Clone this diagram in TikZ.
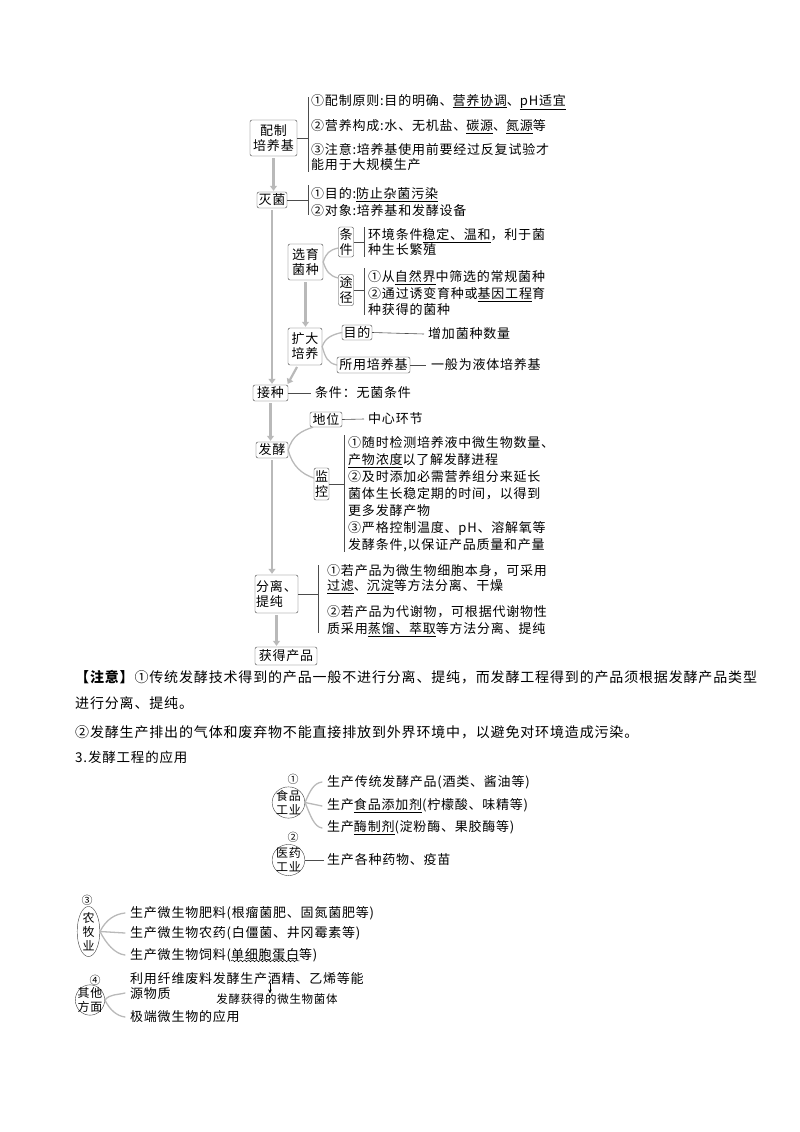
\documentclass[tikz,border=0pt]{standalone}
\usepackage{fontspec}
\setmainfont{Noto Sans CJK SC}[LetterSpace=6]
\usetikzlibrary{arrows.meta, positioning, shapes.geometric, decorations.pathmorphing}

\newcommand\dfont{\fontsize{13}{15}\selectfont}
\newcommand\nfont{\fontsize{14}{17}\selectfont}
\newcommand\efont{\fontsize{12}{14}\selectfont}
\newcommand\cfont{\fontsize{11}{12}\selectfont}
\newcommand\hfont{\fontsize{11.5}{13}\selectfont}
\newcommand\udl[1]{\underline{#1}}
\newsavebox\wvbox
\newcommand\wvl[1]{\sbox\wvbox{#1}\rlap{\raisebox{-3pt}{\tikz[x=1pt,y=1pt]\draw[line width=0.5pt, decorate, decoration={snake, amplitude=0.9pt, segment length=4pt}] (0,0) -- (\wd\wvbox,0);}}\usebox\wvbox}

\begin{document}
\begin{tikzpicture}[x=1pt, y=-1pt,
    box/.style = {draw=black!75, rounded corners=2pt, inner sep=1pt, align=center, font=\dfont},
    txt/.style = {anchor=west, align=left, inner sep=0pt, font=\dfont},
    note/.style = {anchor=west, inner sep=0pt, font=\nfont},
    oval/.style = {draw=black!75, ellipse, inner xsep=-0.8pt, inner ysep=-1.2pt, align=center, font=\efont},
    num/.style = {inner sep=0pt, font=\cfont},
    flow/.style = {draw=gray!55, line width=2.2pt, -{Triangle[length=5pt, width=7pt]}, shorten <=2pt, shorten >=1pt},
    rule/.style = {draw=black!70, line width=0.6pt},
    curl/.style = {draw=gray!55, line width=1.3pt, line cap=round}
  ]
\useasboundingbox (0,0) rectangle (800,1132);

% main flow
\node[box, minimum width=47pt, minimum height=36pt] (pz) at (273.5,138) {配制\\培养基};
\node[box, minimum width=30pt, minimum height=16pt] (mj) at (272,200) {灭菌};
\node[box, minimum width=35pt, minimum height=36pt] (xy) at (305.5,262) {选育\\菌种};
\node[box, minimum width=15pt, minimum height=30pt, inner sep=0.5pt] (tj) at (346,242) {条\\件};
\node[box, minimum width=15pt, minimum height=31pt, inner sep=0.5pt] (tk) at (346,290) {途\\径};
\node[box, minimum width=34pt, minimum height=37pt] (kd) at (305,346.5) {扩大\\培养};
\node[box, minimum width=30pt, minimum height=15pt] (md) at (357,332.5) {目的};
\node[box, minimum width=73pt, minimum height=16pt] (yt) at (373.5,365) {所用培养基};
\node[box, minimum width=35pt, minimum height=16pt] (jz) at (270.5,393) {接种};
\node[box, minimum width=32pt, minimum height=16pt] (fj) at (272,450) {发酵};
\node[box, minimum width=32pt, minimum height=15pt] (dw) at (326,419.5) {地位};
\node[box, minimum width=15pt, minimum height=32pt, inner sep=0.5pt] (jk) at (321.5,484) {监\\控};
\node[box, minimum width=43pt, minimum height=38pt, align=left] (fl) at (276.5,594) {分离、\\提纯};
\node[box, minimum width=62pt, minimum height=18pt] (hd) at (286,656) {获得产品};

% texts
\node[txt] (pz1) at (311,102) {①配制原则:目的明确、\udl{营养协调}、\udl{pH适宜}};
\node[txt] (pz2) at (311,127) {②营养构成:水、无机盐、\udl{碳源}、\udl{氮源}等};
\node[txt] (pz3) at (311,157.5) {③注意:培养基使用前要经过反复试验才\\能用于大规模生产};
\node[txt] (mj1) at (311,195) {①目的:\udl{防止杂菌污染}};
\node[txt] (mj2) at (311,211) {②对象:培养基和发酵设备};
\node[txt] (tjt) at (368,242.5) {环境条件\udl{稳定、温和}，利于菌\\种生长繁殖};
\node[txt, font=\fontsize{13}{16.5}\selectfont] (tkt) at (368,293.5) {①从\udl{自然界}中筛选的常规菌种\\②通过诱变育种或\udl{基因工程}育\\种获得的菌种};
\node[txt] (mdt) at (428,334) {增加菌种数量};
\node[txt] (ytt) at (431,365) {一般为液体培养基};
\node[txt] (jzt) at (315,393) {条件：无菌条件};
\node[txt] (dwt) at (368,419) {中心环节};
\node[txt, font=\fontsize{13}{17}\selectfont] (jkt) at (348,494) {①随时检测培养液中微生物数量、\\\udl{产物浓度}以了解发酵进程\\②及时添加必需营养组分来延长\\菌体生长稳定期的时间，以得到\\更多发酵产物\\③严格控制温度、pH、溶解氧等\\发酵条件,以保证产品质量和产量};
\node[txt] (flt1) at (327,579.5) {①若产品为微生物细胞本身，可采用\\\udl{过滤}、\udl{沉淀}等方法分离、干燥};
\node[txt, font=\fontsize{13}{17}\selectfont] (flt2) at (327,621.5) {②若产品为代谢物，可根据代谢物性\\质采用\udl{蒸馏、萃取}等方法分离、提纯};

% braces
\coordinate (pzt) at (308,97);
\coordinate (pzb) at (308,172);
\coordinate (mjt) at (308,185);
\coordinate (mjb) at (308,215);
\coordinate (tjt0) at (364,227);
\coordinate (tjb) at (364,257);
\coordinate (tkt0) at (364,268);
\coordinate (tkb) at (364,315);
\coordinate (jkt0) at (344,435);
\coordinate (jkb) at (344,552);
\coordinate (flt0) at (318,565);
\coordinate (flb) at (318,633);
\draw[rule] (pzt) -- (pzb);
\draw[rule] (pz.east) -- (pz.east -| pzt);
\draw[rule] (mjt) -- (mjb);
\draw[rule] (mj.east) -- (mj.east -| mjt);
\draw[rule] (tjt0) -- (tjb);
\draw[rule] (tj.east) -- (tj.east -| tjt0);
\draw[rule] (tkt0) -- (tkb);
\draw[rule] (tk.east) -- (tk.east -| tkt0);
\draw[rule] (jkt0) -- (jkb);
\draw[rule] (jk.east) -- (jk.east -| jkt0);
\draw[rule] (flt0) -- (flb);
\draw[rule] (fl.east) -- (fl.east -| flt0);
\draw[rule] (md.east) -- ([xshift=-4pt]mdt.west);
\draw[rule] (yt.east) -- ([xshift=-5pt]ytt.west);
\draw[rule] (jz.east) -- ([xshift=-4pt]jzt.west);
\draw[rule] (dw.east) -- ([xshift=-4pt]dwt.west);

\draw[curl] (xy.east) .. controls +(3,-9) and +(-9,2) .. ([yshift=-6pt]tj.west);
\draw[curl] (xy.east) .. controls +(3,9) and +(-9,-2) .. ([yshift=12pt]tk.west);
\draw[curl] (kd.east) .. controls +(3,-9) and +(-9,2) .. (md.west);
\draw[curl] (kd.east) .. controls +(3,11) and +(-9,-2) .. (yt.west);
\draw[curl] (fj.east) .. controls +(4,-14) and +(-12,4) .. ([xshift=3pt]dw.south west);
\draw[curl] (fj.east) .. controls +(4,16) and +(-12,-4) .. ([yshift=6pt]jk.west);

% arrows
\draw[flow] (pz.south) -- (pz.south |- mj.north);
\draw[flow] (mj.south) -- (mj.south |- jz.north);
\draw[flow] (xy.south) -- (xy.south |- kd.north);
\draw[flow] ([xshift=-7pt]kd.south) -- ([xshift=-1pt]jz.north east);
\draw[flow] (jz.south) -- (jz.south |- fj.north);
\draw[flow] (fj.south) -- (fj.south |- fl.north);
\draw[flow] (fl.south) -- (fl.south |- hd.north);

% notes
\node[note] (n1) at (75,677) {\textbf{【注意】}①传统发酵技术得到的产品一般不进行分离、提纯，而发酵工程得到的产品须根据发酵产品类型};
\node[note] (n2) at (75,703) {进行分离、提纯。};
\node[note] (n3) at (75,732) {②发酵生产排出的气体和废弃物不能直接排放到外界环境中，以避免对环境造成污染。};
\node[note, font=\fontsize{13.5}{16}\selectfont] (n4) at (75,757) {3.发酵工程的应用};

% applications
\node[oval] (sp) at (288.5,802.5) {食品\\工业};
\node[num] (sp0) at (293,779) {①};
\node[txt] (sp1) at (327,782) {生产传统发酵产品(酒类、酱油等)};
\node[txt] (sp2) at (327,806) {生产\udl{食品添加剂}(柠檬酸、味精等)};
\node[txt] (sp3) at (327,828) {生产\udl{酶制剂}(淀粉酶、果胶酶等)};
\draw[curl] (sp.east) .. controls +(5,-12) and +(-8,1) .. ([xshift=-5pt]sp1.west);
\draw[curl] (sp.east) -- ([xshift=-5pt]sp2.west);
\draw[curl] (sp.east) .. controls +(5,12) and +(-8,-1) .. ([xshift=-5pt]sp3.west);

\node[oval] (yy) at (288.5,860) {医药\\工业};
\node[num] (yy0) at (293,837) {②};
\node[txt] (yyt) at (327,860) {生产各种药物、疫苗};
\draw[rule] (yy.east) -- ([xshift=-3pt]yyt.west);

\node[oval, inner xsep=2pt, inner ysep=-1.5pt] (nm) at (88.5,931.5) {农\\牧\\业};
\node[num] (nm0) at (87,900) {③};
\node[txt] (nm1) at (130,913) {生产微生物肥料(根瘤菌肥、固氮菌肥等)};
\node[txt] (nm2) at (130,933) {生产微生物农药(白僵菌、井冈霉素等)};
\node[txt] (nm3) at (130,955) {生产微生物饲料(\wvl{单细胞蛋白}等)};
\draw[curl] (nm.east) .. controls +(6,-12) and +(-10,1) .. ([xshift=-5pt]nm1.west);
\draw[curl] (nm.east) -- ([xshift=-5pt]nm2.west);
\draw[curl] (nm.east) .. controls +(6,12) and +(-10,-1) .. ([xshift=-5pt]nm3.west);

\node[oval, inner xsep=-2pt, inner ysep=-1.8pt] (qt) at (90,1000) {其他\\方面};
\node[num] (qt0) at (95,980) {④};
\node[txt] (qt1) at (130,986) {利用纤维废料发酵生产酒精、乙烯等能\\源物质};
\node[txt] (qt2) at (130,1017) {极端微生物的应用};
\draw[curl] (qt.east) .. controls +(5,-6) and +(-8,2) .. ([xshift=-5pt,yshift=-7pt]qt1.west);
\draw[curl] (qt.east) .. controls +(5,10) and +(-8,-1) .. ([xshift=-5pt]qt2.west);

% handwritten remark
\coordinate (hw) at (270,983);
\node[inner sep=0pt, font=\hfont] (hnote) at (277,999) {发酵获得的微生物菌体};
\draw[-{Stealth[length=4pt, width=3.5pt]}, line width=0.5pt] (hw) -- (hw |- hnote.north);
\end{tikzpicture}
\end{document}
